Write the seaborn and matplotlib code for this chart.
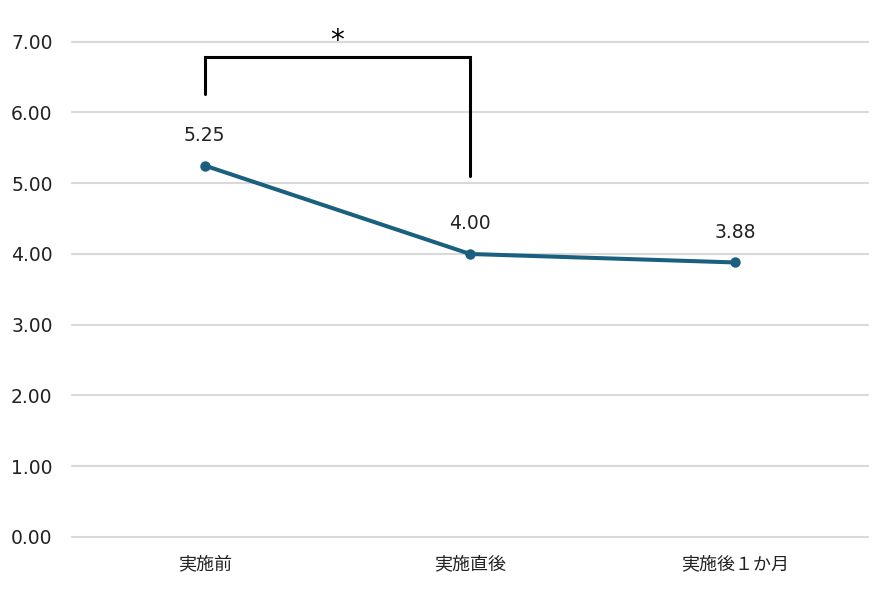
import matplotlib
matplotlib.use("Agg")
import matplotlib.pyplot as plt
import seaborn as sns
import pandas as pd

# data
categories = ['実施前', '実施直後', '実施後１か月']
scores = [5.25, 4.00, 3.88]
y_ticks = [0, 1, 2, 3, 4, 5, 6, 7]

# significance bracket (between first and second group)
sig_pair = (0, 1)
sig_y = 6.79
sig_legs = (6.26, 5.10)
sig_mark = '*'

line_color = '#1A5F7E'

sns.set_theme(style='white')
plt.rcParams['font.family'] = ['DejaVu Sans', 'Noto Sans CJK JP']

df = pd.DataFrame({'time': categories, 'score': scores})

fig = plt.figure(figsize=(8.86, 5.91), dpi=100)
ax = fig.add_axes([0.0813, 0.0914, 0.8984, 0.838])

sns.lineplot(data=df, x='time', y='score', ax=ax, color=line_color,
             linewidth=2.9, marker='o', markersize=7.5, markeredgewidth=0,
             sort=False, zorder=3)

for i, v in enumerate(scores):
    ax.annotate(f'{v:.2f}', (i, v), xytext=(0, 15), textcoords='offset points',
                ha='center', va='bottom', fontsize=13.5, color='#222222')

ax.set_ylim(0, 7)
ax.set_xlim(-0.5, len(categories) - 0.5)
ax.set_yticks(y_ticks)
ax.set_yticklabels([f'{t:.2f}' for t in y_ticks], fontsize=13.5, color='#222222')
ax.set_xticks(range(len(categories)))
ax.set_xticklabels(categories, fontsize=13, color='#222222',
                   family=['Noto Sans CJK JP', 'DejaVu Sans'])
ax.tick_params(axis='x', pad=13, length=0)
ax.tick_params(axis='y', pad=14, length=0)
ax.set_xlabel('')
ax.set_ylabel('')
ax.yaxis.grid(True, color='#D9D9D9', linewidth=1.5)
ax.xaxis.grid(False)
ax.set_axisbelow(True)
for gl in ax.yaxis.get_gridlines():
    gl.set_clip_on(False)
for s in ax.spines.values():
    s.set_visible(False)

# bracket
x0, x1 = sig_pair
ax.plot([x0, x0, x1, x1], [sig_legs[0], sig_y, sig_y, sig_legs[1]],
        color='black', linewidth=2.2, solid_joinstyle='miter', clip_on=False, zorder=4)
ax.text((x0 + x1) / 2, sig_y + 0.02, sig_mark, ha='center', va='bottom',
        fontsize=20, color='black', clip_on=False)

fig.savefig('out.png', dpi=100, facecolor='white')
